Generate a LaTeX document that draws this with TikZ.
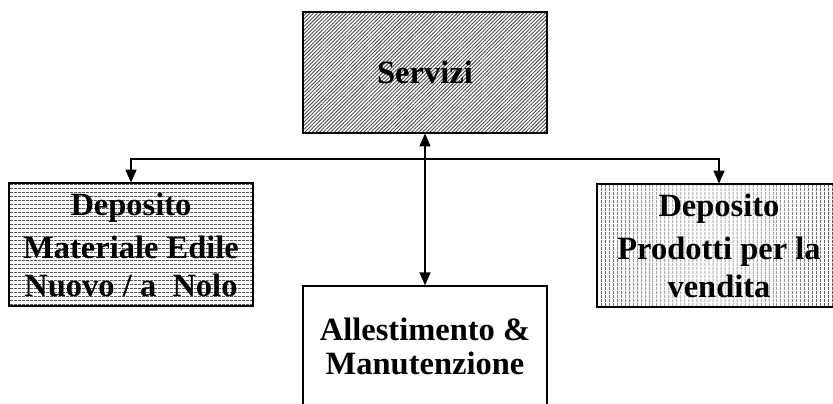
\documentclass[tikz,border=0pt]{standalone}
\usepackage{fontspec}
\setmainfont{Liberation Serif}
\usetikzlibrary{patterns.meta,arrows.meta}

\begin{document}
\begin{tikzpicture}[x=1pt,y=-1pt,>={Triangle[width=11pt,length=13pt]},
        box/.style={draw,line width=1.2pt,align=center,inner sep=0pt,minimum width=244pt,
            font=\fontsize{32.5}{38}\selectfont\bfseries},
        diag/.style={pattern={Lines[angle=45,distance=2.6pt,line width=0.9pt]},pattern color=black!70},
        hlines/.style={pattern={Lines[angle=0,distance=4pt,line width=0.7pt]}},
        vlines/.style={pattern={Lines[angle=90,distance=4pt,line width=0.7pt]}}]
        \useasboundingbox (0,0) rectangle (833,404);
        \clip (0,0) rectangle (833,404);
        \node[box,diag,minimum height=121pt] (servizi) at (425,72.5) {Servizi};
        \node[box,hlines,minimum height=123pt] (edile) at (131,244.5) {Deposito\\[5pt]Materiale Edile\\Nuovo / a~ Nolo};
        \node[box,vlines,minimum height=123pt] (vendita) at (719,245.5) {Deposito\\[5pt]Prodotti per la\\vendita};
        \node[box,minimum height=120pt,font=\fontsize{32.5}{34}\selectfont\bfseries] (allest) at (425,346) {Allestimento \&\\Manutenzione};
        \coordinate (hub) at (425,159);
        \draw[<->,line width=1.3pt] (servizi)--(allest);
        \draw[->,line width=1.3pt] (hub)-|(edile);
        \draw[->,line width=1.3pt] (hub)-|(vendita);
    \end{tikzpicture}
\end{document}
